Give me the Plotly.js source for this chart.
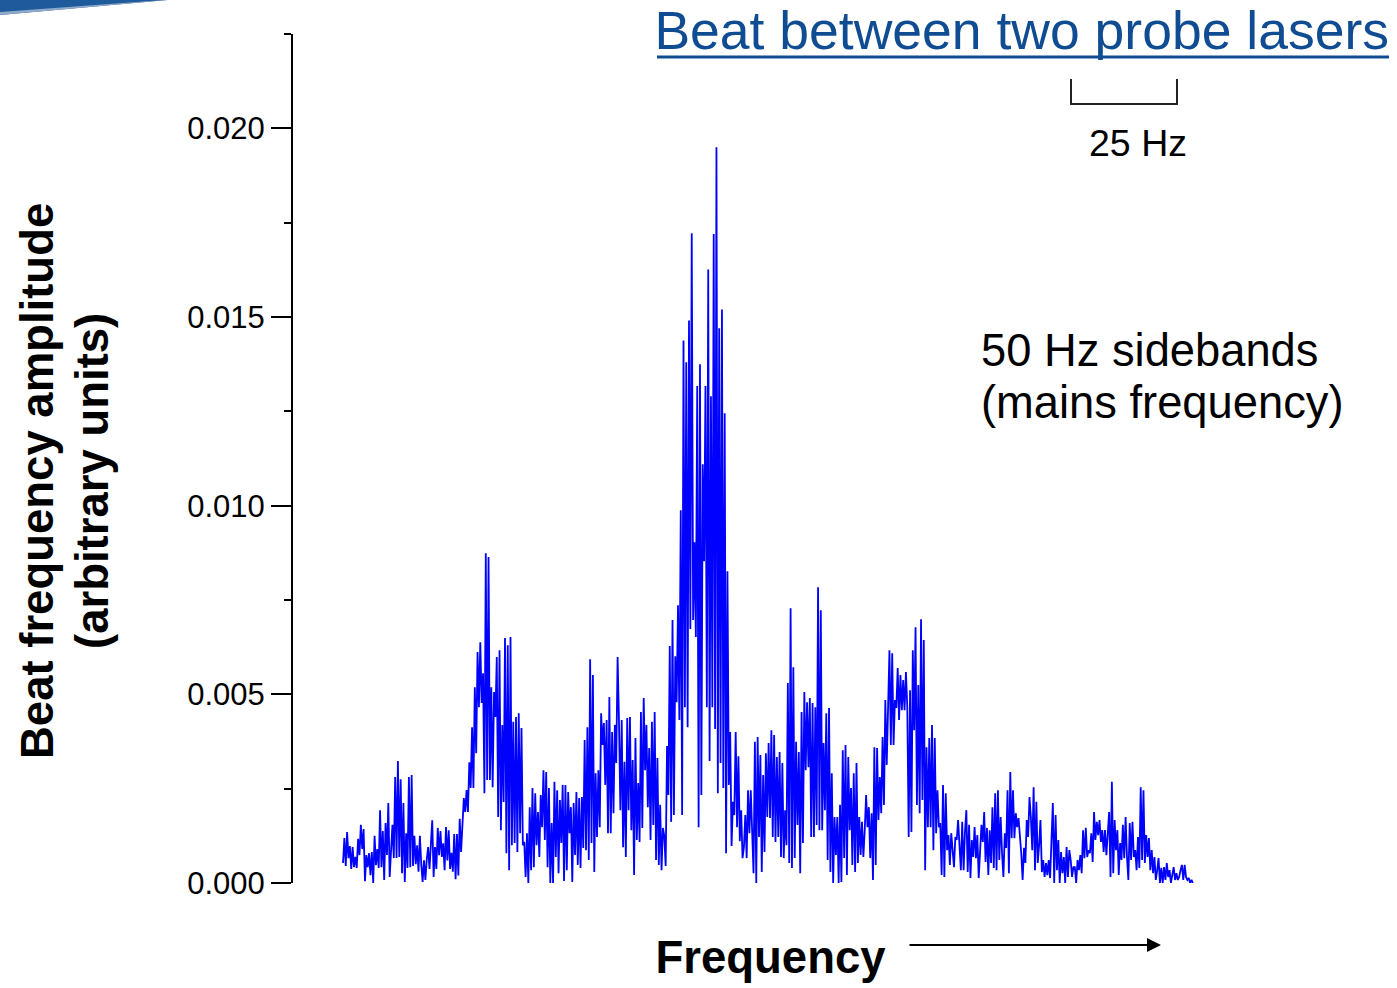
<!DOCTYPE html>
<html>
<head>
<meta charset="utf-8">
<script src="https://cdn.plot.ly/plotly-3.0.1.min.js"></script>
<style>html,body{margin:0;padding:0;background:#fff;}#chart{width:1397px;height:988px;}</style>
</head>
<body>
<div id="chart"></div>
<script>
// Beat-frequency amplitude (in units of 0.001, arbitrary), sampled frequency bins left -> right
const lowBand = [0.53,1.19,0.45,1.35,0.66,0.98,0.37,0.95,0.42,0.69,0.40,1.17,0.74,1.54,0.90,1.43,0.05,0.74,0.42,0.79,0.21,0.82,0.00,1.25,0.47,0.90,0.40,
1.93,0.42,1.38,0.08,1.59,0.74,2.12,0.16,1.10,1.54,0.66,2.81,0.66,3.23,0.69,2.75,0.26,2.12,0.03,1.32,0.40,2.81,0.42,2.86,0.45,1.25,0.50,1.00,0.30,1.25,0.50,0.03,0.60,0.08,0.62,0.95,0.37,1.25,1.66,0.16,0.95,0.37,1.46,0.74,1.38,0.69,1.05,0.34,1.48,0.60,1.40,0.37,0.80,0.30,1.30,0.10,1.30,0.20,1.70];
const lowerSideband2 = [0.82,1.67,2.25,1.88,2.46,1.88,3.20,2.52,4.13,2.52,5.19,3.44,6.12,4.66,6.38,4.77,5.56,2.38,8.74,2.73,8.64,2.73,5.19,2.54,5.06,4.40,5.99,1.75,6.17,1.40,4.19,2.15,6.49,0.79,6.30,0.34,6.52,1.00,4.27,1.06,4.40,0.82,4.50,1.32,4.11,1.00,1.09,0.16,1.32,0.00,2.01,0.34,2.52,0.42,2.38,1.00,1.88,0.69,2.33,1.48,2.99,1.14,2.94,0.42,2.52,0.00];
const lowerSideband1 = [1.59,0.00,2.68,0.69,2.46,0.26,2.20,1.06,2.60,0.05,2.60,0.34,2.41,1.32,2.01,0.03,2.12,0.74,2.41,0.48,2.25,0.40,2.28,0.93,3.79,0.87,4.13,0.61,5.93,1.06,5.51,0.29,2.91,1.22,2.99,1.48,4.50,3.66,4.24,2.60,4.32,1.32,4.93,1.32,4.00,1.85,4.19,3.18,5.99,4.32,1.93,4.32,0.95,3.21,0.69,4.37,1.93,4.40,1.40,3.26,0.21,3.84,1.14,2.65,1.09,4.53,1.46,4.90,2.99,4.19,2.01,3.58,1.14,4.27,1.54,4.53,0.61,3.31,0.48,2.07,0.34,1.46];
const carrier = [1.25,0.45,3.63,2.33,6.28,1.62,6.97,1.80,6.01,4.79,7.36,4.32,9.88,1.80,14.38,4.66,13.80,4.13,14.91,6.73,17.22,6.97,9.03,6.52,13.17,1.48,13.75,2.33,11.10,8.53,13.17,4.66,16.26,3.23,12.90,4.66,17.20,4.08,19.50,2.38,14.70,3.18,15.20,2.52,12.45,0.79,8.26,2.60,4.00,0.98,2.15,1.80,4.00,1.48,3.36,1.11,1.93,0.66];
const upperSideband1 = [0.95,1.80,0.66,2.46,1.32,2.46,1.22,0.26,3.74,0.00,3.87,1.22,3.39,0.29,2.86,0.82,3.44,1.75,3.71,1.72,4.05,1.22,3.92,1.09,3.34,1.22,3.47,0.69,3.18,0.66,1.93,1.00,5.30,0.53,7.28,0.40,5.72,0.66,3.74,1.54,3.47,0.26,4.53,1.06,5.06,2.99,4.79,3.07,4.90,1.22,4.77,1.22,4.66,1.54,7.84,1.40,7.23,1.40,3.71,1.93,4.50,0.61,4.64,0.29,2.91,0.00,1.75,0.74,1.75,0.00,2.07,0.03,3.52,0.66,3.66,0.21];
const upperSideband2 = [3.34,1.40,2.52,0.48,2.91,0.29,3.18,0.53,1.75,0.74,1.62,0.69,1.40,2.33,1.48,2.01,0.66,1.85,0.08,3.60,0.48,3.58,1.67,2.81,1.85,3.87,2.07,4.85,3.13,4.85,6.17,3.66,6.09,3.66,4.85,4.64,5.70,4.32,5.51,4.58,5.38,4.58,5.59,4.66,1.22,5.11,1.35,6.17,4.05,6.78,2.07,5.25,1.85,6.99,2.20,6.44,0.34,3.60,1.48,3.84,1.48,4.19,0.87,3.84,1.32,2.46,1.48,1.59,0.21,2.60,0.16,2.38,0.87,1.27,0.48,1.32,0.74,0.42,1.22,1.14,1.67];
const upperTail = [1.14,0.34,1.62,0.34,1.35,1.93,0.29,1.54,0.13,1.14,0.69,1.48,0.66,1.27,0.13,0.95,1.54,1.09,1.88,0.56,1.46,0.21,1.40,0.53,2.01,0.40,2.38,0.34,2.46,0.61,1.75,0.79,0.16,1.32,0.93,2.46,0.26,2.94,1.19,2.46,1.19,1.85,1.48,1.72,1.35,0.79,0.08,0.93,0.53,1.67,1.22,2.28,1.75,0.87,2.54,0.34,2.15,0.53,1.00,1.67,0.29,0.61,0.16,0.53,0.21,0.61,0.13,1.48,2.12,0.00,1.80,0.34,1.14,0.00,0.82,0.26,0.69,0.00,0.95,0.16,0.87,0.61,0.16,0.42];
const highBand = [0.42,0.00,0.61,0.34,0.74,0.26,1.40,0.66,1.46,0.69,0.87,0.79,1.32,0.56,1.88,1.14,1.62,1.27,1.67,1.09,1.40,0.82,1.40,0.74,1.40,1.88,0.16,2.68,0.26,1.67,0.87,1.40,0.21,1.06,0.61,1.54,0.66,1.75,0.69,0.08,1.59,0.61,1.62,0.69,0.87,0.34,1.22,0.40,2.54,0.61,2.46,0.53,1.27,0.69,1.19,0.34,0.87,0.26,0.69,0.08,0.34,0.66,0.00,0.40,0.00,0.42,0.08,0.53,0.16,0.34,0.00,0.29,0.42,0.08,0.26,0.08,0.16,0.34,0.48,0.08,0.48,0.16,0.08,0.13,0.00,0.08,0.00];

const amplitude = [].concat(lowBand, lowerSideband2, lowerSideband1, carrier, upperSideband1, upperSideband2, upperTail, highBand);

const yTickVals = [0, 5, 10, 15, 20];
const yTickText = ['0.000', '0.005', '0.010', '0.015', '0.020'];
const yTitleLines = ['Beat frequency amplitude', '(arbitrary units)'];
const noteLines = ['50 Hz sidebands', '(mains frequency)'];

const FONT = 'Liberation Sans, Arial, Helvetica, sans-serif';
const W = 1397, H = 988, L = 293, R = 1248, T = 34, B = 883;
const px = x => (x - L) / (R - L);
const py = y => (B - y) / (B - T);
const path = pts => pts.map((p, i) => (i ? 'L' : 'M') + px(p[0]).toFixed(5) + ',' + py(p[1]).toFixed(5)).join(' ');

const trace = {
  type: 'scatter', mode: 'lines',
  y: amplitude, x0: 0, dx: 1,
  line: {color: '#0000ff', width: 1.8},
  hoverinfo: 'skip', showlegend: false
};

const layout = {
  width: W, height: H,
  margin: {l: L, r: W - R, t: T, b: H - B, pad: 0},
  paper_bgcolor: '#ffffff', plot_bgcolor: '#ffffff',
  font: {family: FONT, color: '#000'},
  showlegend: false,
  title: {
    text: 'Beat between two probe lasers',
    font: {family: FONT, size: 53.5, color: '#0f4c92'},
    xref: 'container', x: 1389 / W, xanchor: 'right',
    yref: 'container', y: 1 - 30 / H, yanchor: 'middle'
  },
  xaxis: {
    range: [-(343 - L) / 1.373, (R - 343) / 1.373],
    showline: false, showgrid: false, zeroline: false, ticks: '', showticklabels: false,
    fixedrange: true,
    title: {text: '<b>Frequency</b>', font: {family: FONT, size: 45.5, color: '#000'}, standoff: 58}
  },
  yaxis: {
    range: [0, 22.5],
    showline: true, linecolor: '#000', linewidth: 2,
    showgrid: false, zeroline: false,
    tickmode: 'array', tickvals: yTickVals, ticktext: yTickText,
    ticks: 'outside', ticklen: 20, tickwidth: 2, tickcolor: '#000',
    tickfont: {family: FONT, size: 31, color: '#000'},
    minor: {tickmode: 'linear', tick0: 0, dtick: 2.5, ticks: 'outside', ticklen: 7, tickwidth: 2, tickcolor: '#000', showgrid: false},
    fixedrange: true
  },
  shapes: [
    {type: 'line', xref: 'paper', yref: 'paper', x0: px(657), x1: px(1389), y0: py(57), y1: py(57), line: {color: '#0f4c92', width: 3}},
    {type: 'path', xref: 'paper', yref: 'paper', path: path([[1071, 79], [1071, 104], [1177, 104], [1177, 79]]), line: {color: '#222', width: 2}},
    {type: 'path', xref: 'paper', yref: 'paper', path: path([[0, 0], [168, 0], [0, 15]]) + ' Z', fillcolor: '#1f5a9c', line: {width: 0}},
    {type: 'path', xref: 'paper', yref: 'paper', path: path([[0, 12], [150, 1], [168, 0], [0, 15]]) + ' Z', fillcolor: '#8fa9c8', line: {width: 0}}
  ],
  annotations: [
    {xref: 'paper', yref: 'paper', x: px(38), y: py(481), text: '<b>' + yTitleLines[0] + '</b>', textangle: -90, showarrow: false,
     xanchor: 'center', yanchor: 'middle', font: {family: FONT, size: 45.5, color: '#000'}},
    {xref: 'paper', yref: 'paper', x: px(93), y: py(481), text: '<b>' + yTitleLines[1] + '</b>', textangle: -90, showarrow: false,
     xanchor: 'center', yanchor: 'middle', font: {family: FONT, size: 45.5, color: '#000'}},
    {xref: 'paper', yref: 'paper', x: px(1138), y: py(143), text: '25 Hz', showarrow: false,
     xanchor: 'center', yanchor: 'middle', font: {family: FONT, size: 37.5, color: '#000'}},
    {xref: 'paper', yref: 'paper', x: px(979), y: py(350), text: noteLines[0], showarrow: false,
     xanchor: 'left', yanchor: 'middle', align: 'left', font: {family: FONT, size: 45.3, color: '#000'}},
    {xref: 'paper', yref: 'paper', x: px(979), y: py(402), text: noteLines[1], showarrow: false,
     xanchor: 'left', yanchor: 'middle', align: 'left', font: {family: FONT, size: 45.3, color: '#000'}},
    {xref: 'paper', yref: 'paper', x: px(1161), y: py(945), text: '', showarrow: true,
     axref: 'pixel', ayref: 'pixel', ax: -253, ay: 0,
     arrowhead: 2, arrowsize: 1.4, arrowwidth: 2, arrowcolor: '#000', standoff: 0}
  ]
};

Plotly.newPlot('chart', [trace], layout, {staticPlot: true, displayModeBar: false});
</script>
</body>
</html>
